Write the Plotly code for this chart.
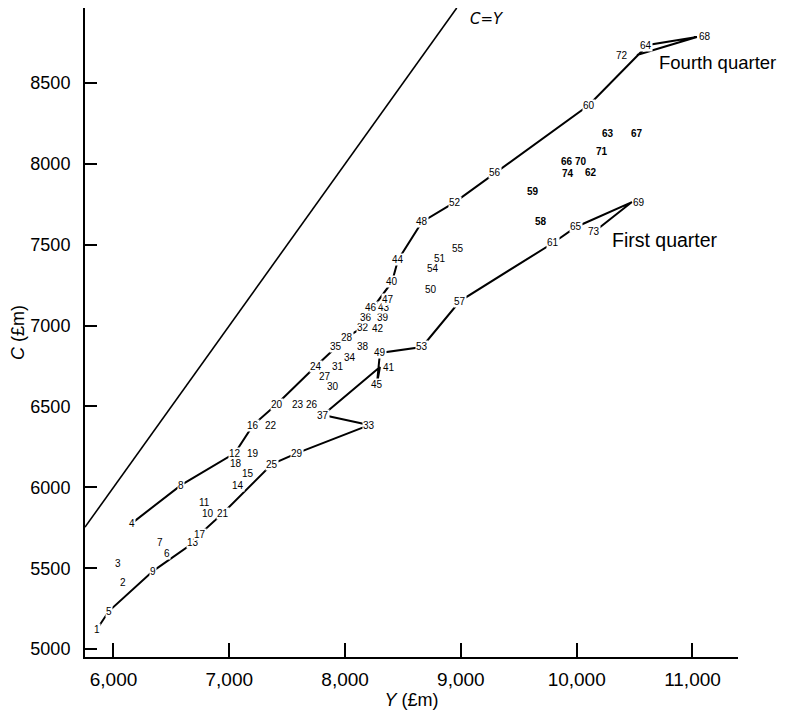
import plotly.graph_objects as go

# Quarter index (1 = first quarter of the series) with income Y and consumption C (£m)
quarters = list(range(1, 75))
income_y = [5858, 6082, 6039, 6160, 5961, 6462, 6402, 6583, 6341, 6816,
            6790, 7049, 6687, 7075, 7161, 7205, 6747, 7058, 7205, 7412,
            6946, 7360, 7593, 7749, 7369, 7714, 7826, 8016, 7585, 7896,
            7939, 8155, 8207, 8042, 7921, 8181, 7809, 8155, 8327, 8405,
            8301, 8284, 8336, 8457, 8275, 8224, 8370, 8664, 8301, 8742,
            8820, 8949, 8664, 8759, 8975, 9294, 8992, 9691, 9622, 10106,
            9795, 10123, 10270, 10615, 9994, 9916, 10520, 11038, 10477, 10037,
            10218, 10520, 10149, 9925]
consumption_c = [5124, 5414, 5532, 5779, 5235, 5594, 5656, 6014, 5482, 5841,
                 5909, 6212, 5656, 6014, 6088, 6385, 5711, 6150, 6212, 6515,
                 5841, 6385, 6515, 6750, 6144, 6515, 6688, 6929, 6212, 6626,
                 6750, 6991, 6385, 6806, 6874, 7053, 6447, 6874, 7053, 7270,
                 6744, 6985, 7115, 7406, 6639, 7115, 7164, 7641, 6831, 7226,
                 7418, 7764, 6868, 7356, 7474, 7944, 7152, 7641, 7832, 8364,
                 7511, 7944, 8191, 8735, 7610, 8012, 8191, 8785, 7764, 8012,
                 8074, 8673, 7579, 7938]

x_ticks = [6000, 7000, 8000, 9000, 10000, 11000]
y_ticks = [5000, 5500, 6000, 6500, 7000, 7500, 8000, 8500]
x_range = [5754, 11393]
y_range = [4951, 8964]

# label pixel nudges (style only)
label_shift = {41: 9, 64: -2, 68: 8, 69: 7, 72: -15}

q1 = [i for i, q in enumerate(quarters) if q % 4 == 1]
q4 = [i for i, q in enumerate(quarters) if q % 4 == 0]

fig = go.Figure()

# C = Y line
fig.add_trace(go.Scatter(x=[x_range[0], y_range[1]], y=[x_range[0], y_range[1]],
                         mode="lines", line=dict(color="black", width=1.6),
                         hoverinfo="skip", showlegend=False))

for idx in (q1, q4):
    fig.add_trace(go.Scatter(x=[income_y[i] for i in idx],
                             y=[consumption_c[i] for i in idx],
                             mode="lines", line=dict(color="black", width=2),
                             showlegend=False))

annotations = []
for q, xv, yv in zip(quarters, income_y, consumption_c):
    bold = q >= 58 and q % 4 in (2, 3)
    annotations.append(dict(
        x=xv, y=yv, xref="x", yref="y", text=str(q), showarrow=False,
        xshift=label_shift.get(q, 0), bgcolor="white", borderpad=0,
        font=dict(family="Liberation Sans, Arial", size=10, color="black",
                  weight="bold" if bold else "normal")))

big = dict(family="Liberation Sans, Arial", size=18.5, color="black")
annotations += [
    dict(x=10693, y=8624, xref="x", yref="y", text="Fourth quarter", showarrow=False,
         xanchor="left", font=big),
    dict(x=10285, y=7529, xref="x", yref="y", text="First quarter", showarrow=False,
         xanchor="left", font=dict(family="Liberation Sans, Arial", size=19.5, color="black")),
    dict(x=9061, y=y_range[1], xref="x", yref="y", text="<i>C</i>=<i>Y</i>", showarrow=False,
         xanchor="left", yanchor="top",
         font=dict(family="DejaVu Sans", size=15, color="black")),
]

fig.update_layout(
    width=781, height=706,
    margin=dict(l=77, r=51, t=0, b=57),
    paper_bgcolor="white", plot_bgcolor="white",
    annotations=annotations,
    font=dict(family="Liberation Sans, Arial", color="black"),
    xaxis=dict(range=x_range, tickvals=x_ticks, tickformat=",d",
               showgrid=False, zeroline=False, showline=True, linecolor="black",
               linewidth=2, ticks="inside", ticklen=14, tickwidth=2, tickcolor="black",
               tickfont=dict(family="Liberation Sans Narrow, Liberation Sans", size=19),
               ticklabelstandoff=4,
               title=dict(text="<i>Y</i> (£m)", font=dict(size=18), standoff=4)),
    yaxis=dict(range=y_range, tickvals=y_ticks,
               showgrid=False, zeroline=False, showline=True, linecolor="black",
               linewidth=2, ticks="inside", ticklen=12, tickwidth=2, tickcolor="black",
               tickfont=dict(size=18), ticklabelstandoff=9,
               title=dict(text="<i>C</i> (£m)", font=dict(size=18), standoff=6)),
)

fig.write_html("out.html")
